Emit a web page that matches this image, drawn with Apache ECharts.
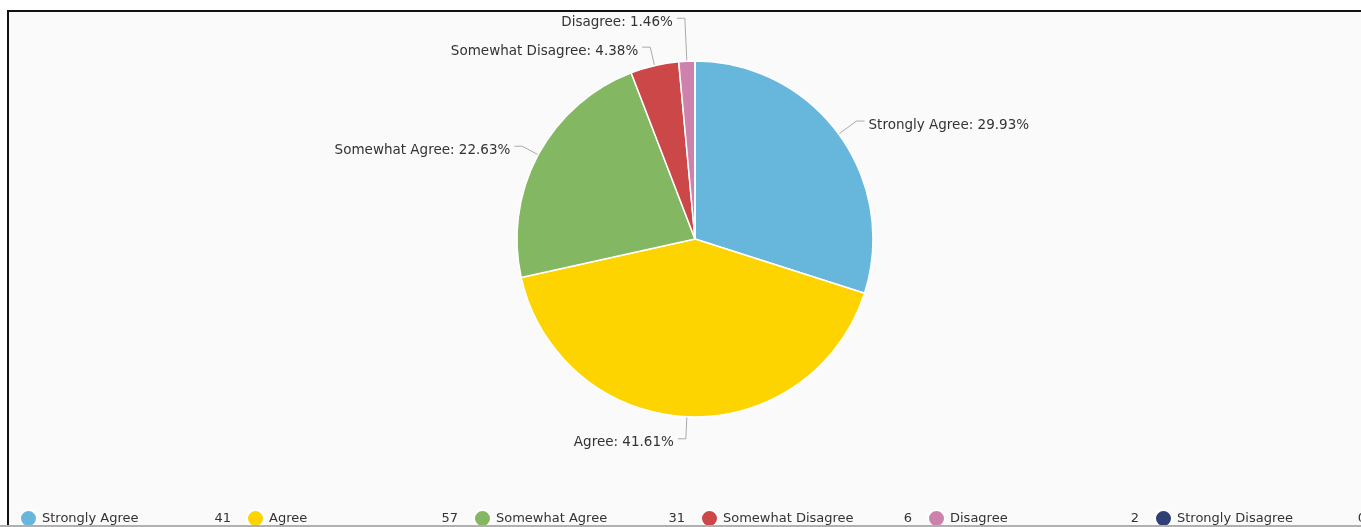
<!DOCTYPE html>
<html>
<head>
<meta charset="utf-8">
<script src="https://cdn.jsdelivr.net/npm/echarts@6/dist/echarts.min.js"></script>
<style>
  html, body { margin: 0; padding: 0; background: #ffffff; overflow: hidden; width: 1361px; height: 527px; }
  #frame {
    position: absolute; left: 7px; top: 10px; width: 1400px; height: 560px;
    border-top: 2px solid #111; border-left: 2px solid #111; background: #fafafa;
  }
  #chart { position: absolute; left: 9px; top: 12px; width: 1400px; height: 540px; }
  #baseline { position: absolute; left: 0; top: 525px; width: 1361px; height: 2px; background: #b0b0b0; z-index: 5; }
</style>
</head>
<body>
<div id="frame"></div>
<div id="chart"></div>
<div id="baseline"></div>
<script>
// Survey responses
const categories = ['Strongly Agree', 'Agree', 'Somewhat Agree', 'Somewhat Disagree', 'Disagree', 'Strongly Disagree'];
const counts = [41, 57, 31, 6, 2, 0];
const colors = ['#67b7dc', '#fdd400', '#84b761', '#cc4748', '#cd82ad', '#2f4074'];
// first leader-line segment length for each slice label
const leaderLength = [22, 22, 18, 19, 43, 0];

const total = counts.reduce((a, b) => a + b, 0);
const pct = v => (v / total * 100).toFixed(2);

const data = categories.map((name, i) => ({
  name: name,
  value: counts[i],
  itemStyle: { color: colors[i] },
  label: { show: counts[i] > 0 },
  labelLine: { show: counts[i] > 0, length: leaderLength[i], length2: 8 }
}));

const chart = echarts.init(document.getElementById('chart'), null, { renderer: 'canvas' });
chart.setOption({
  animation: false,
  backgroundColor: 'transparent',
  color: colors,
  legend: {
    left: 10,
    top: 497,
    width: 1400,
    padding: 0,
    orient: 'horizontal',
    icon: 'circle',
    itemWidth: 17,
    itemHeight: 17,
    itemGap: 15,
    selectedMode: false,
    textStyle: {
      fontFamily: 'DejaVu Sans',
      fontSize: 13,
      color: '#333',
      rich: {
        n: { width: 169, align: 'left', fontFamily: 'DejaVu Sans', fontSize: 13, color: '#333' },
        v: { width: 20, align: 'right', fontFamily: 'DejaVu Sans', fontSize: 13, color: '#333' }
      }
    },
    formatter: name => '{n|' + name + '}{v|' + counts[categories.indexOf(name)] + '}',
    data: categories
  },
  series: [{
    type: 'pie',
    center: [686, 227],
    radius: 178,
    startAngle: 90,
    clockwise: true,
    avoidLabelOverlap: false,
    stillShowZeroSum: false,
    itemStyle: { borderColor: '#ffffff', borderWidth: 1.5 },
    label: {
      show: true,
      position: 'outside',
      fontFamily: 'DejaVu Sans',
      fontSize: 13.5,
      color: '#333',
      distanceToLabelLine: 4,
      formatter: p => '{t|' + p.name + ': ' + pct(p.value) + '%}',
      rich: {
        t: { fontFamily: 'DejaVu Sans', fontSize: 13.5, color: '#333', padding: [8, 0, 0, 0] }
      }
    },
    labelLine: {
      show: true,
      length: 20,
      length2: 8,
      lineStyle: { color: '#aaaaaa', width: 1 }
    },
    emphasis: { disabled: true },
    data: data
  }]
});
</script>
</body>
</html>
